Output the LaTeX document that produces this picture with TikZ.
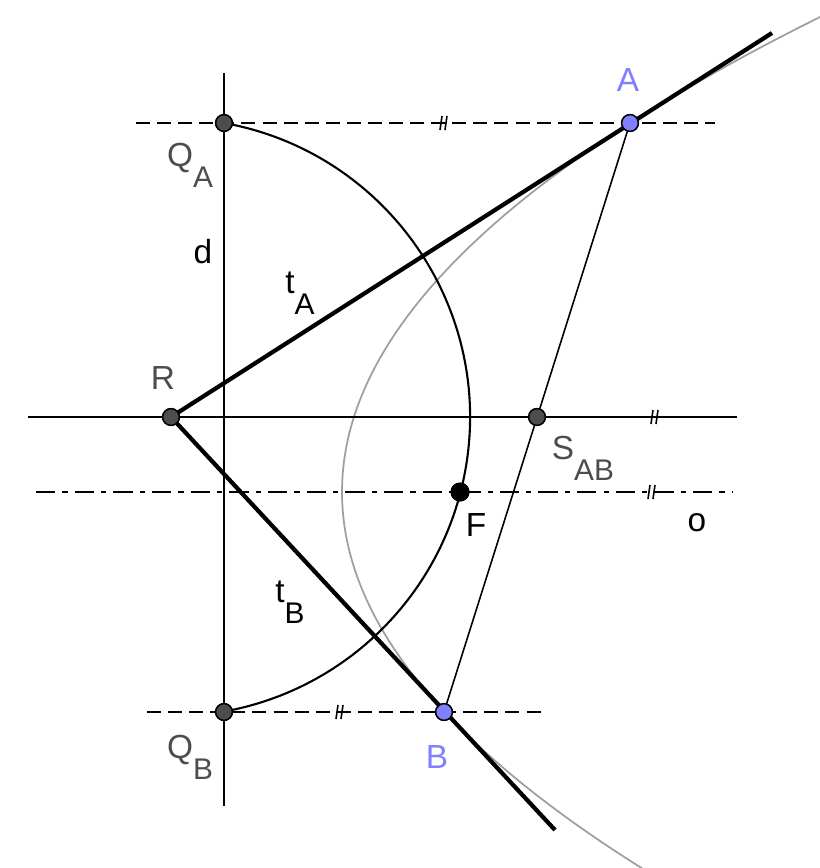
\documentclass[tikz,border=0pt]{standalone}
\usepackage{fontspec}
\setmainfont{Liberation Sans}
\usetikzlibrary{arrows,shapes,calc}
\definecolor{ptgray}{HTML}{4D4D4D}
\definecolor{ptblue}{HTML}{7F7FFF}
\tikzstyle{vertex}=[circle,draw=black,line width=0.8pt,fill=ptgray,minimum size=9.5pt,inner sep=0pt]
\tikzstyle{blue vertex}=[vertex,fill=ptblue]
\tikzstyle{label}=[font=\fontsize{19}{19}\selectfont,text=ptgray]
\tikzstyle{edge}=[draw,line width=0.9pt,-]
\tikzstyle{tangent}=[draw,line width=2.4pt,-]
\newcommand\lowsub[1]{\raisebox{-1.2ex}{\fontsize{17}{17}\selectfont #1}}
\newcommand\twoticks[1]{\draw[line width=0.9pt] ($(#1)+(-3,7)$) -- ($(#1)+(-1,-7)$) ($(#1)+(2,7)$) -- ($(#1)+(4,-7)$);}
\begin{document}
\begin{tikzpicture}[x=0.02cm,y=-0.02cm]
    \useasboundingbox (0,0) rectangle (820,868);
    % parabola with focus F and directrix d
    \begin{scope}
        \clip (0,0) rectangle (820,868);
        \draw[gray!75,line width=1pt] plot[domain=-4.8:3.8,samples=120] ({342+21.186*\x*\x},{492+100*\x});
    \end{scope}
    % points
    \foreach \pos/\name in {{(224,123)/QA}, {(224,712)/QB}, {(171,417)/R}, {(537,417)/S}}
        \node[vertex] (\name) at \pos {};
    \foreach \pos/\name in {{(630,123)/A}, {(444,712)/B}}
        \node[blue vertex] (\name) at \pos {};
    \node[vertex,fill=black,minimum size=10pt] (F) at (460,492) {};
    % free ends of lines
    \coordinate (d1) at (224,73);   \coordinate (d2) at (224,806);
    \coordinate (h1) at (28,417);   \coordinate (h2) at (737,417);
    \coordinate (o1) at (36,492);   \coordinate (o2) at (733,492);
    \coordinate (a1) at (136,123);  \coordinate (a2) at (715,123);
    \coordinate (b1) at (147,712);  \coordinate (b2) at (541,712);
    \coordinate (tA) at (772,33);   \coordinate (tB) at (555,830);
    % lines
    \path[edge] (d1) -- (d2);
    \path[edge] (h1) -- (h2);
    \path[edge,dash pattern=on 11pt off 4pt on 3pt off 4pt] (o1) -- (o2);
    \path[edge,dash pattern=on 8pt off 4pt] (a1) -- (a2);
    \path[edge,dash pattern=on 8pt off 4pt] (b1) -- (b2);
    \path[edge] (A) -- (B);
    \draw[line width=1.2pt] (QA.center) arc[start angle=-79.8,end angle=79.8,radius=299];
    \path[tangent] (R.center) -- (tA);
    \path[tangent] (R.center) -- (tB);
    % redraw points on top
    \foreach \name in {QA,QB,R,S}
        \node[vertex] at (\name) {};
    \foreach \name in {A,B}
        \node[blue vertex] at (\name) {};
    \node[vertex,fill=black,minimum size=10pt] at (F) {};
    % equal length marks
    \twoticks{443,123}
    \twoticks{339,712}
    \twoticks{654,417}
    \twoticks{651,492}
    % labels
    \node[label,text=ptblue] at (628,80) {A};
    \node[label,text=ptblue] at (437,757) {B};
    \node[label] at (190,165) {Q\lowsub{A}};
    \node[label] at (190,757) {Q\lowsub{B}};
    \node[label] at (163,378) {R};
    \node[label] at (583,458) {S\lowsub{AB}};
    \node[label,text=black] at (476,525) {F};
    \node[label,text=black] at (697,523) {o};
    \node[label,text=black] at (203,252) {d};
    \node[label,text=black] at (300,293) {t\lowsub{A}};
    \node[label,text=black] at (290,602) {t\lowsub{B}};
\end{tikzpicture}
\end{document}
